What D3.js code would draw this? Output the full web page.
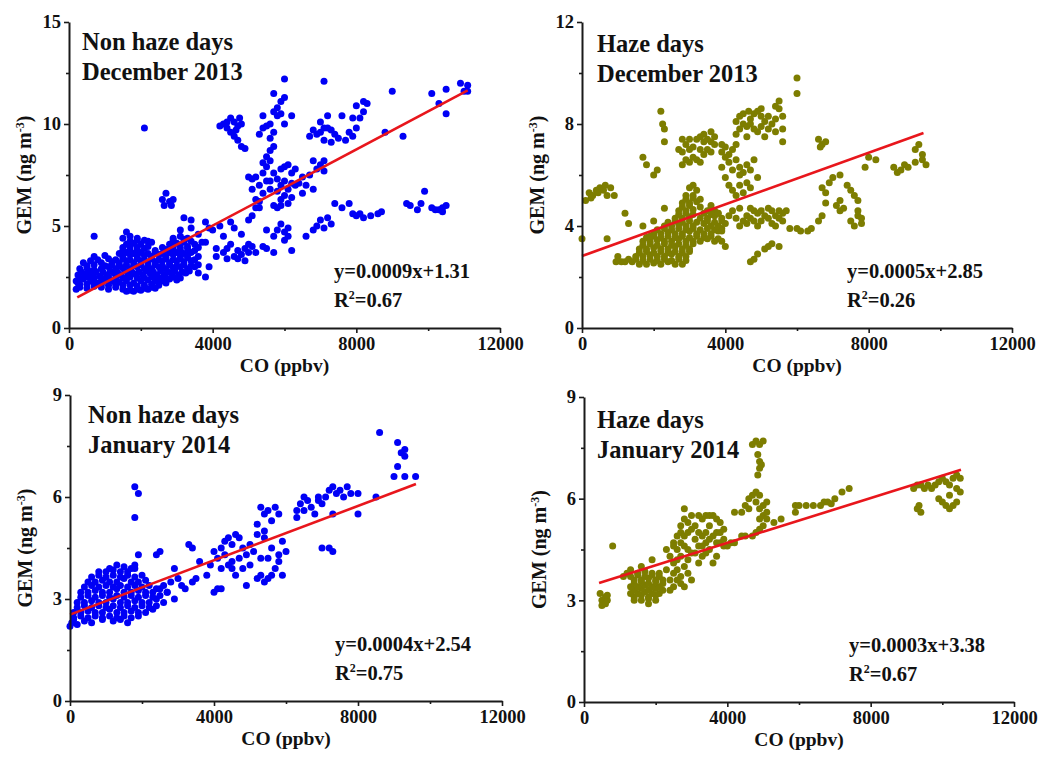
<!DOCTYPE html>
<html>
<head>
<meta charset="utf-8">
<script src="https://cdn.jsdelivr.net/npm/d3@7"></script>
<style>
  body { margin: 0; background: #fff; }
  svg { display: block; }
  text { font-family: "Liberation Serif", "Times New Roman", serif; font-weight: bold; fill: #111; }
</style>
</head>
<body>
<svg></svg>
<script>
// CO (ppbv) vs GEM (ng m-3)
// non haze days, December 2013
let nonHazeDec = [
  [200,1.9],[250,2.2],[300,2.0],[500,1.95],[700,2.05],[900,2.0],[1100,1.9],[1300,2.0],[1500,1.9],[1700,1.85],[1900,1.9],[2100,1.95],[2300,2.0],[2500,2.1],
  [1600,1.8],[1800,1.8],[2000,1.85],[2200,1.9],[2400,1.95],
  [300,2.15],[500,2.15],[700,2.2],[900,2.15],[1100,2.1],[1300,2.15],[1500,2.1],[1700,2.1],[1900,2.05],[2100,2.1],[2300,2.15],[2500,2.2],[2700,2.2],
  [200,2.3],[400,2.4],[600,2.3],[800,2.2],[1000,2.35],[1200,2.3],[1400,2.25],[1600,2.3],[1800,2.2],[2000,2.3],[2200,2.35],[2400,2.3],[2600,2.3],[2800,2.4],[3000,2.35],
  [300,2.45],[500,2.5],[700,2.45],[900,2.45],[1100,2.5],[1300,2.45],[1500,2.45],[1700,2.5],[1900,2.45],[2100,2.45],[2300,2.5],[2500,2.45],[2700,2.45],[2900,2.5],[3100,2.45],
  [250,2.6],[450,2.65],[650,2.6],[850,2.55],[1050,2.6],[1250,2.7],[1450,2.6],[1650,2.6],[1850,2.65],[2050,2.6],[2250,2.7],[2450,2.6],[2650,2.6],[2850,2.7],[3050,2.6],[3250,2.7],
  [350,2.75],[550,2.8],[750,2.75],[950,2.75],[1150,2.8],[1350,2.75],[1550,2.8],[1750,2.75],[1950,2.75],[2150,2.8],[2350,2.75],[2550,2.8],[2750,2.75],[2950,2.8],[3150,2.75],[3350,2.8],
  [300,2.9],[500,2.95],[700,2.85],[900,2.9],[1100,3.0],[1300,2.9],[1500,2.95],[1700,2.9],[1900,3.0],[2100,2.9],[2300,2.9],[2500,3.0],[2700,2.9],[2900,2.95],[3100,3.0],[3300,2.9],[3500,3.0],
  [500,3.05],[700,3.1],[1000,3.05],[1200,3.1],[1400,3.05],[1600,3.1],[1800,3.05],[2000,3.1],[2200,3.05],[2400,3.1],[2600,3.05],[2800,3.1],[3000,3.05],[3200,3.1],[3400,3.05],[3600,3.1],
  [400,3.2],[600,3.3],[900,3.2],[1200,3.25],[1400,3.2],[1600,3.3],[1800,3.2],[2000,3.3],[2200,3.2],[2400,3.25],[2600,3.3],[2800,3.2],[3000,3.3],[3200,3.25],[3400,3.3],
  [800,3.35],[1100,3.4],[1300,3.35],[1500,3.4],[1700,3.35],[1900,3.4],[2100,3.35],[2300,3.4],[2500,3.35],[2700,3.4],[2900,3.35],[3100,3.4],[3300,3.45],[3500,3.35],
  [700,3.5],[1000,3.55],[1500,3.5],[1700,3.6],[1900,3.5],[2100,3.55],[2300,3.5],[2500,3.6],[2700,3.5],[2900,3.6],[3100,3.55],[3300,3.6],[3600,3.5],
  [1400,3.65],[1600,3.7],[1800,3.65],[2000,3.7],[2200,3.65],[2400,3.7],[2600,3.65],[2800,3.7],[3000,3.7],[3200,3.65],[3400,3.7],
  [1500,3.8],[1700,3.85],[1900,3.8],[2100,3.9],[2400,3.8],[2700,3.85],[2900,3.9],[3100,3.8],[3300,3.9],[3500,3.8],
  [1500,3.95],[1700,4.0],[1900,3.95],[2200,4.0],[2600,3.95],[2900,4.05],[3100,3.95],[3300,4.0],[3600,3.95],
  [1600,4.1],[1800,4.15],[2000,4.1],[2300,4.2],[2800,4.1],[3000,4.15],[3200,4.2],[3500,4.1],[3800,4.2],
  [1700,4.25],[1900,4.3],[2200,4.25],[2900,4.3],[3200,4.35],[3400,4.25],
  [1500,4.4],[1700,4.5],[1900,4.4],[2100,4.3],[2900,4.4],[3100,4.5],[3300,4.4],[1600,4.7],[3100,4.8],[3400,4.9],[700,4.5],
  [3600,2.7],[3800,2.5],[3900,3.0],[3700,4.2],[3900,4.9],[3800,5.2],[4000,4.8],[4100,3.5],[4300,3.7],[4300,4.5],[4500,4.1],[4600,3.5],[4700,3.8],
  [4800,3.6],[4900,3.9],[5000,3.7],[5100,4.0],[4400,3.4],[4600,4.9],[4800,4.6],[4200,5.0],[4500,5.2],[3200,5.4],[3400,5.3],[3600,4.6],
  [4100,3.9],[4400,3.9],[4700,3.4],[5000,4.1],[4900,3.3],
  [2100,9.8],
  [2600,6.3],[2700,6.6],[2800,6.2],[2900,6.3],[2650,6.0],[2850,6.0],
  [4200,9.9],[4300,10.0],[4400,9.8],[4500,10.3],[4600,10.1],[4700,9.9],[4800,10.0],[4500,9.6],[4600,9.4],[4700,9.2],[4800,8.9],[4900,8.8],[4650,9.7],[4400,10.1],[4750,10.3],
  [5000,7.4],[5100,7.3],[5200,7.4],[5100,6.8],[5200,6.3],[5300,6.2],[5300,7.0],[5400,7.6],[5400,8.1],[5500,8.4],[5500,7.9],[5600,8.7],[5500,7.2],[5600,6.8],
  [5700,7.6],[5800,7.3],[5800,6.7],[5900,6.3],[5900,7.0],[6000,7.2],[6000,6.5],[6100,6.8],[6200,7.1],[6200,6.4],[6300,7.0],[5700,6.0],[5800,5.9],[5600,7.2],
  [5900,7.8],[6000,7.9],[6100,8.0],[6200,7.6],[5300,5.9],[5100,5.5],[5000,5.3],[5200,5.9],[5600,8.2],[5700,8.9],[5400,6.6],[5900,6.0],[6100,6.1],
  [5300,9.5],[5400,9.8],[5400,10.4],[5500,9.9],[5600,10.0],[5700,9.6],[5700,10.6],[5800,10.4],[5800,10.8],[5900,10.5],[5900,11.1],[6000,11.3],[5700,11.5],[6000,10.0],[5600,9.3],[6200,10.4],
  [6000,12.2],[7100,12.1],
  [6700,9.4],[6800,9.7],[6900,9.5],[7000,10.1],[7100,9.8],[7200,10.4],[7300,9.7],[7400,9.5],[7300,9.1],[7100,9.2],[7000,9.6],[7500,9.3],[7200,9.8],
  [7700,9.2],[7800,9.6],[7900,9.4],[8000,10.9],[8100,10.3],[8200,11.1],[8300,11.0],[8000,9.8],[7600,10.4],[7900,10.3],[8200,10.6],
  [8800,9.6],[9000,11.6],[9300,9.4],[10100,11.5],[10300,11.0],[10500,11.7],[10500,10.5],[10900,12.0],[11100,11.9],[11000,11.6],[11100,11.6],
  [5200,3.7],[5400,4.0],[5500,4.8],[5500,3.9],[5700,3.7],[5700,4.5],[5800,4.8],[5900,5.1],[6000,4.7],[6100,4.9],[6100,4.5],[6200,3.8],[6000,4.3],
  [6600,4.5],[6800,4.8],[6900,5.0],[7000,5.3],[7100,4.9],[7200,5.4],[7300,5.1],[7400,6.1],[7600,5.9],[7800,6.1],[7900,5.6],[8000,5.5],[8100,5.6],
  [8200,5.4],[8400,5.5],[8600,5.6],[8700,5.7],[9400,6.1],[9500,6.0],[9700,5.8],[9800,6.1],[9900,6.7],[10100,5.9],[10200,5.8],[10300,5.8],[10400,5.7],[10500,6.0],[10400,5.9],
  [6400,7.1],[6500,7.4],[6600,7.0],[6700,7.5],[6800,8.2],[6900,7.8],[6500,6.6],[6800,6.8],[7000,8.0],[6300,7.8],[7100,8.2],[7100,7.7]
]
// haze days, December 2013
let hazeDec = [
  [0,3.5],[100,5.0],[200,5.3],[300,5.2],[400,5.4],[500,5.5],[600,5.4],[700,5.2],[800,5.5],[900,5.2],[250,5.1],[450,5.3],[650,5.6],[700,3.5],
  [950,2.6],[1000,2.8],[1100,2.6],[1200,2.6],[1300,2.7],[1400,2.6],[1500,2.7],[1200,4.5],[1300,4.1],
  [1600,2.5],[1800,2.5],[2000,2.55],[2200,2.5],[2400,2.6],[2600,2.5],[2800,2.5],
  [1700,2.65],[1900,2.7],[2100,2.65],[2300,2.7],[2500,2.65],[2700,2.7],[2900,2.65],
  [1500,2.8],[1700,2.8],[1900,2.85],[2100,2.8],[2300,2.8],[2500,2.9],[2700,2.8],[2900,2.8],
  [1600,2.95],[1800,3.0],[2000,2.95],[2200,3.0],[2400,2.95],[2600,3.0],[2800,2.95],[3000,3.0],
  [1600,3.1],[1800,3.1],[2000,3.15],[2200,3.1],[2400,3.1],[2600,3.2],[2800,3.1],[3000,3.1],
  [1700,3.25],[1900,3.3],[2100,3.25],[2300,3.3],[2500,3.25],[2700,3.3],[2900,3.25],[3100,3.3],
  [1700,3.4],[1900,3.4],[2100,3.45],[2300,3.4],[2500,3.4],[2700,3.5],[2900,3.4],[3100,3.4],[3300,3.4],
  [1800,3.55],[2000,3.6],[2200,3.55],[2400,3.6],[2600,3.55],[2800,3.6],[3000,3.55],[3200,3.6],[3400,3.55],[3600,3.6],
  [2000,3.7],[2200,3.7],[2400,3.75],[2600,3.7],[2800,3.7],[3000,3.8],[3200,3.7],[3400,3.7],[3600,3.7],[3800,3.8],
  [2100,3.85],[2300,3.9],[2500,3.85],[2700,3.9],[2900,3.85],[3100,3.9],[3300,3.85],[3500,3.9],[3700,3.85],[3900,3.9],
  [2300,4.0],[2500,4.0],[2700,4.05],[2900,4.0],[3100,4.0],[3400,4.1],[3600,4.0],[3800,4.0],[4000,4.1],
  [2400,4.15],[2600,4.2],[2800,4.15],[3000,4.2],[3200,4.15],[3500,4.2],[3700,4.15],[3900,4.2],
  [2600,4.3],[2800,4.3],[3000,4.35],[3300,4.3],[3500,4.3],[3700,4.4],[3900,4.3],
  [2700,4.45],[2900,4.5],[3100,4.45],[3400,4.5],[3600,4.45],[3800,4.5],
  [2700,4.6],[2900,4.6],[3100,4.65],[3500,4.6],[3700,4.6],[2800,4.75],[3000,4.8],[3300,4.75],[3600,4.8],
  [2800,4.9],[3000,4.9],[3200,4.95],[2900,5.05],[3100,5.1],[3300,5.05],[2900,5.2],[3100,5.2],[3200,5.4],[3000,5.5],[3100,5.6],
  [1700,4.0],[2000,4.2],[2300,4.7],[1900,3.6],[3900,3.4],[4000,3.2],[3800,3.5],
  [3500,3.5],[3700,3.4],[3900,3.8],[3600,4.7],[3800,4.5],
  [2800,6.9],[2900,7.2],[3000,7.0],[3100,6.7],[3200,7.4],[3300,7.5],[3400,7.6],[3500,7.4],[3600,7.7],[3700,7.5],[3000,6.5],[3200,6.6],[3400,6.8],[2800,6.4],
  [2900,6.6],[3100,7.1],[3300,7.0],[3500,7.0],[3600,7.3],[3300,6.5],[2700,7.0],[2800,7.4],[3000,7.4],[3700,7.2],[3400,7.3],[3600,6.9],
  [3900,6.9],[4000,7.1],[4100,6.8],[4200,7.0],[4300,6.6],[4400,6.3],[4500,6.1],[4000,6.7],
  [3900,6.3],[4000,5.9],[4100,5.6],[4200,5.4],[4300,5.2],[4400,5.6],[4400,6.0],[4200,6.2],[4100,6.5],[4300,7.2],[3900,7.2],
  [4300,8.1],[4400,8.3],[4500,8.0],[4600,7.9],[4700,8.2],[4800,8.4],[4900,8.5],[5000,8.3],[5100,8.1],[5200,7.8],[5300,8.0],[5400,8.2],[5500,8.6],[5600,8.3],
  [5100,7.5],[4900,7.7],[4600,7.5],[5600,7.8],[5600,7.3],
  [4400,7.8],[4500,8.4],[4700,8.0],[4800,7.8],[5000,7.9],[5200,8.3],[5400,7.7],[4300,7.6],[5000,8.6],[4650,8.5],
  [4500,5.3],[4600,5.7],[4700,6.2],[4800,6.6],[4900,5.9],[4600,6.4],[4700,5.5],
  [2200,8.5],[2250,8.0],[2300,7.8],[2300,7.3],[1700,6.7],[1800,6.4],[2000,6.0],[2100,6.2],
  [6000,9.8],[6000,9.2],[5500,8.9],[5400,8.7],
  [6600,7.4],[6700,7.2],[6800,7.3],[6650,7.1],
  [4600,4.4],[4700,4.3],[4800,4.2],[4900,4.5],[5000,4.6],[5100,4.4],[5200,4.3],[5300,4.1],[5400,4.4],[5500,4.3],[5600,4.5],[5700,4.6],
  [4600,4.1],[4800,4.6],[5000,4.2],[5200,4.7],[5400,4.0],[5600,4.2],[4400,4.0],[4700,4.7],[5300,4.6],[5500,4.6],[4900,4.0],
  [4100,4.4],[4200,4.6],[4300,4.3],[4400,4.7],[4500,4.2],
  [4700,2.6],[4800,2.7],[4900,2.9],[5100,3.1],[5200,3.2],[5300,3.3],[5500,3.2],
  [5800,3.9],[6000,3.9],[6100,3.8],[6300,3.8],[6400,3.9],
  [6600,4.2],[6700,4.4],[6800,4.9],[6800,5.3],[6900,5.7],[6700,5.5],
  [7100,4.8],[7200,4.6],[7200,5.0],[7300,4.7],
  [7500,5.4],[7600,5.2],[7700,4.6],[7800,4.3],[7700,4.4],[7800,4.1],[7600,4.0],[7500,4.2],[7700,5.0],
  [7000,5.9],[7200,6.0],[7400,5.6],[7900,6.3],[8000,6.7],[8200,6.6],
  [8700,6.3],[8800,6.1],[8900,6.2],[9000,6.4],[9100,6.3],
  [9300,7.0],[9400,7.2],[9500,6.6],[9600,6.4],[9500,6.8],[9300,6.5]
]
// non haze days, January 2014
let nonHazeJan = [
  [0,2.2],[100,2.4],
  [50,2.3],[200,2.25],[400,2.35],[600,2.3],[900,2.4],[1200,2.35],[1400,2.4],[1600,2.3],
  [100,2.45],[300,2.5],[500,2.45],[700,2.5],[900,2.45],[1100,2.5],[1300,2.45],[1500,2.5],[1700,2.45],[1900,2.5],
  [100,2.6],[300,2.6],[500,2.65],[700,2.6],[900,2.6],[1100,2.7],[1300,2.6],[1500,2.6],[1700,2.65],[1900,2.6],[2100,2.6],[2300,2.7],
  [200,2.75],[400,2.8],[600,2.75],[800,2.8],[1000,2.75],[1200,2.8],[1400,2.75],[1600,2.8],[1800,2.75],[2000,2.8],[2200,2.75],[2400,2.8],
  [200,2.9],[400,2.9],[600,2.95],[800,2.9],[1000,2.9],[1200,3.0],[1400,2.9],[1600,2.9],[1800,2.95],[2000,2.9],[2200,2.9],[2400,3.0],[2600,2.9],
  [300,3.05],[500,3.1],[700,3.05],[900,3.1],[1100,3.05],[1300,3.1],[1500,3.05],[1700,3.1],[1900,3.05],[2100,3.1],[2300,3.05],[2500,3.1],
  [300,3.2],[500,3.2],[700,3.25],[900,3.2],[1100,3.2],[1300,3.3],[1500,3.2],[1700,3.2],[1900,3.25],[2100,3.2],[2300,3.2],[2500,3.3],[2700,3.2],
  [400,3.35],[600,3.4],[800,3.35],[1000,3.4],[1200,3.35],[1400,3.4],[1600,3.35],[1800,3.4],[2000,3.35],[2200,3.4],
  [500,3.5],[700,3.5],[900,3.55],[1100,3.5],[1300,3.5],[1500,3.6],[1700,3.5],[1900,3.5],[2100,3.55],
  [600,3.65],[800,3.7],[1000,3.65],[1200,3.7],[1400,3.65],[1600,3.7],[1800,3.65],[2000,3.7],
  [800,3.8],[1000,3.8],[1200,3.85],[1400,3.8],[1600,3.8],[1800,3.9],[1300,4.0],[1800,4.0],[1100,3.9],[1500,3.95],[1700,3.9],
  [1900,4.3],[1800,6.3],[1900,6.1],[1800,5.4],
  [2400,3.3],[2600,3.4],[2800,3.5],[2900,3.0],[2900,3.9],[3000,3.6],[3100,3.4],[3300,4.6],[3400,4.5],[3500,3.6],[3600,4.1],[3800,3.7],
  [2400,4.3],[2500,4.4],[3200,3.3],[3400,3.5],[2700,3.2],
  [3900,4.0],[4000,3.2],[4100,3.3],[4200,3.3],[4000,4.4],[4100,4.2],[4200,4.5],[4300,4.7],[4400,4.8],[4500,4.6],[4600,4.9],[4700,4.8],[4300,4.3],[4500,4.1],
  [4600,3.7],[4700,4.2],[4800,4.5],[4800,3.9],[4900,4.3],[5000,4.6],[5100,4.4],[5200,3.6],[5300,3.7],[5400,3.5],[5500,3.6],[5600,3.7],[5400,4.8],[5200,4.9],
  [5500,4.2],[5700,3.9],[5800,4.1],[5900,3.7],[6000,4.4],[5900,4.7],[5800,4.3],[5600,4.5],[4500,3.9],[4400,4.0],[4900,3.4],[5000,4.0],[5300,4.2],[4200,3.9],
  [5200,5.2],[5300,5.7],[5400,5.5],[5500,5.6],[5700,5.7],[5600,5.3],[5400,5.0],[5800,5.5],
  [6300,5.6],[6400,5.8],[6500,6.0],[6600,5.9],[6700,5.7],[6800,5.5],[6900,5.9],[7000,5.8],[7100,6.0],[7200,6.2],[7300,6.3],[7400,6.1],[7500,6.2],[7600,6.0],
  [7700,6.3],[7800,6.1],[6500,5.6],[6900,6.0],[7300,5.5],[6300,5.4],
  [7000,4.5],[7200,4.5],[7300,4.4],
  [8000,5.5],[8000,6.1],[8500,6.0],[8600,7.9],[9100,7.6],[9200,7.3],[9300,7.2],[9300,7.4],[9100,6.9],[9000,6.6],[9300,6.6],[9600,6.6]
]
// haze days, January 2014
let hazeJan = [
  [450,3.2],[500,3.0],[550,2.9],[600,3.1],[650,3.0],[500,2.85],[600,2.9],[650,3.15],[800,4.6],
  [1400,3.0],[1600,3.0],[1800,3.05],[2000,3.0],
  [1400,3.1],[1600,3.15],[1800,3.1],[2000,3.15],
  [1300,3.2],[1500,3.2],[1700,3.25],[1900,3.2],[2100,3.2],
  [1400,3.3],[1600,3.35],[1800,3.3],[2000,3.35],[2200,3.3],
  [1300,3.4],[1500,3.4],[1700,3.45],[1900,3.4],[2100,3.4],[2200,3.5],
  [1400,3.5],[1600,3.55],[1800,3.5],[2000,3.55],
  [1400,3.6],[1600,3.6],[1800,3.65],[2000,3.6],[2200,3.6],
  [1300,3.7],[1500,3.75],[1700,3.7],[1900,3.75],[2100,3.7],
  [1200,3.8],[1500,3.8],[1700,3.85],[1900,3.8],[2100,3.8],
  [1800,2.9],[1900,4.2],[1600,4.0],[1300,3.9],[1100,3.7],
  [2300,4.5],[2400,4.3],[2500,4.7],[2600,4.9],[2700,5.0],[2600,4.5],[2500,4.1],[2700,4.3],[2800,4.6],[2800,4.0],[2900,4.2],[2600,3.9],[2400,3.6],
  [2500,3.4],[2700,3.5],[2900,3.8],[3000,3.6],[3000,4.4],[2400,3.3],[2800,3.4],[2700,3.7],
  [2500,4.6],[2600,4.2],[2700,4.7],[2800,4.9],[2500,3.8],[2300,3.9],[2900,4.5],[2600,3.6],
  [2700,5.2],[2800,5.4],[2800,5.7],[2900,5.3],[2900,5.0],[3000,5.5],
  [3100,5.2],[3200,5.5],[3300,5.4],[3400,5.5],[3500,5.5],[3600,5.5],[3700,5.4],[3800,5.3],[3900,5.1],[3100,4.8],[3200,4.6],[3300,4.9],[3400,5.0],
  [3500,4.8],[3600,4.9],[3700,5.0],[3800,4.7],[3900,4.6],[4000,4.6],[3500,4.5],[3700,4.3],[3300,4.3],[3100,4.4],[3600,4.1],[3900,4.8],[3200,4.1],
  [3400,4.7],[4100,4.7],[4200,4.7],
  [3200,5.0],[3500,5.2],[3700,4.7],[3800,5.0],[3300,4.6],[3400,4.4],[3000,5.1],
  [4200,5.6],[4400,5.6],[4600,5.7],[4500,5.8],[4600,6.0],[4700,6.1],[4400,4.9],[4500,4.9],[4700,4.9],[4800,5.0],[4900,5.1],
  [4800,5.9],[4900,6.1],[4900,5.7],[5000,5.5],[5000,5.8],[5100,5.4],[5100,5.6],[4900,5.4],[5000,5.2],[4800,6.2],[5100,5.9],
  [4700,7.6],[4800,7.7],[4900,7.6],[4850,7.3],[4900,7.1],[4900,6.9],[4850,6.7],[4950,7.0],[5000,7.7],
  [5300,5.3],[5500,5.4],[5900,5.6],[5900,5.8],[6200,5.8],[6400,5.8],[6600,5.8],[6700,5.9],[6800,5.9],[7000,6.0],[7200,6.2],[7400,6.3],[6000,5.8],[6900,5.85],
  [9200,6.3],[9300,6.4],[9400,6.4],[9500,6.3],[9600,6.4],[9700,6.3],[9300,5.7],[9400,5.6],[9350,5.8],
  [9800,6.4],[9900,6.5],[10000,6.6],[10100,6.5],[10200,6.4],[10300,6.6],[10400,6.7],[10500,6.6],[10100,5.8],[10200,5.7],[10300,5.8],[10400,5.9],
  [10500,6.2],[10000,5.9],[10200,6.1],[10400,6.3],[9900,6.0]
]

// fitted lines, end points
let fitNonHazeDec = [[230,1.5],[11100,11.65]]
let fitHazeDec = [[0,2.82],[9530,7.65]]
let fitNonHazeJan = [[0,2.54],[9610,6.38]]
let fitHazeJan = [[420,3.51],[10520,6.85]]

let xTicks = [0,4000,8000,12000]
let xMinor = [2000,6000,10000]
let yTicksDec1 = [0,5,10,15]
let yMinorDec1 = [2.5,7.5,12.5]
let yTicksDec2 = [0,4,8,12]
let yMinorDec2 = [2,6,10]
let yTicksJan = [0,3,6,9]
let yMinorJan = [1.5,4.5,7.5]

let titles = [
  ['Non haze days','December 2013'],
  ['Haze days','December 2013'],
  ['Non haze days','January 2014'],
  ['Haze days','January 2014']
]
let equations = ['y=0.0009x+1.31','y=0.0005x+2.85','y=0.0004x+2.54','y=0.0003x+3.38']
let r2Values = ['0.67','0.26','0.75','0.67']

let blue = '#0000f5'
let olive = '#7d7d00'
let red = '#e8161c'

let width = 1052
let height = 758

let svg = d3.select('svg').attr('width', width).attr('height', height)

// panel frames: left/right = x axis 0..12000, top/bottom = y axis max..0
let panels = [
  {data: nonHazeDec, fit: fitNonHazeDec, color: blue, yTicks: yTicksDec1, yMinor: yMinorDec1, left: 69, right: 500, top: 22, bottom: 328, tdx: 13, tdy: 28},
  {data: hazeDec, fit: fitHazeDec, color: olive, yTicks: yTicksDec2, yMinor: yMinorDec2, left: 582, right: 1012, top: 22, bottom: 328, tdx: 15, tdy: 30},
  {data: nonHazeJan, fit: fitNonHazeJan, color: blue, yTicks: yTicksJan, yMinor: yMinorJan, left: 70, right: 502, top: 395, bottom: 701, tdx: 18, tdy: 28},
  {data: hazeJan, fit: fitHazeJan, color: olive, yTicks: yTicksJan, yMinor: yMinorJan, left: 584, right: 1014, top: 397, bottom: 702, tdx: 13, tdy: 31}
]

panels.forEach((p, i) => {
  let g = svg.append('g')
  let x = d3.scaleLinear().domain([0, 12000]).range([p.left, p.right])
  let yMax = p.yTicks[p.yTicks.length - 1]
  let y = d3.scaleLinear().domain([0, yMax]).range([p.bottom, p.top])

  // points
  g.append('g').selectAll('circle')
    .data(p.data)
    .enter()
    .append('circle')
    .attr('cx', d => x(d[0]))
    .attr('cy', d => y(d[1]))
    .attr('r', 3.5)
    .attr('fill', p.color)

  // regression line
  g.append('line')
    .attr('x1', x(p.fit[0][0])).attr('y1', y(p.fit[0][1]))
    .attr('x2', x(p.fit[1][0])).attr('y2', y(p.fit[1][1]))
    .attr('stroke', red)
    .attr('stroke-width', 2.6)

  // axes
  g.append('g')
    .attr('transform', 'translate(0,' + p.bottom + ')')
    .call(d3.axisBottom(x).tickValues(xTicks).tickSize(5).tickSizeOuter(0).tickPadding(4).tickFormat(d3.format('d')))
  g.append('g')
    .attr('transform', 'translate(0,' + p.bottom + ')')
    .call(d3.axisBottom(x).tickValues(xMinor).tickSize(3).tickFormat(''))
    .select('.domain').remove()

  g.append('g')
    .attr('transform', 'translate(' + p.left + ',0)')
    .call(d3.axisLeft(y).tickValues(p.yTicks).tickSize(5).tickSizeOuter(0).tickPadding(3))
  g.append('g')
    .attr('transform', 'translate(' + p.left + ',0)')
    .call(d3.axisLeft(y).tickValues(p.yMinor).tickSize(3).tickFormat(''))
    .select('.domain').remove()

  g.selectAll('.domain').attr('stroke', '#1a1a1a').attr('stroke-width', 2)
  g.selectAll('.tick line').attr('stroke', '#1a1a1a').attr('stroke-width', 1.6)
  g.selectAll('.tick text')
    .style('font-family', '"Liberation Serif", "Times New Roman", serif')
    .style('font-weight', 'bold')
    .style('font-size', '18.5px')
    .attr('fill', '#111')

  // axis titles
  g.append('text')
    .attr('x', (p.left + p.right) / 2)
    .attr('y', p.bottom + 44)
    .attr('text-anchor', 'middle')
    .style('font-size', '19.5px')
    .text('CO (ppbv)')

  let yt = g.append('text')
    .attr('transform', 'translate(' + (p.left - 38) + ',' + ((p.top + p.bottom) / 2) + ') rotate(-90)')
    .attr('text-anchor', 'middle')
    .style('font-size', '20px')
  yt.append('tspan').text('GEM (ng m')
  yt.append('tspan').attr('dy', -7).style('font-size', '12px').text('-3')
  yt.append('tspan').attr('dy', 7).text(')')

  // panel title
  titles[i].forEach((t, k) => {
    g.append('text')
      .attr('x', p.left + p.tdx)
      .attr('y', p.top + p.tdy + k * 30)
      .style('font-size', '24.5px')
      .text(t)
  })

  // equation and R2
  g.append('text')
    .attr('x', p.left + 265)
    .attr('y', p.bottom - 50)
    .style('font-size', '20.5px')
    .text(equations[i])
  let r = g.append('text')
    .attr('x', p.left + 265)
    .attr('y', p.bottom - 21)
    .style('font-size', '20.5px')
  r.append('tspan').text('R')
  r.append('tspan').attr('dy', -8).style('font-size', '12px').text('2')
  r.append('tspan').attr('dy', 8).text('=' + r2Values[i])
})
</script>
</body>
</html>
